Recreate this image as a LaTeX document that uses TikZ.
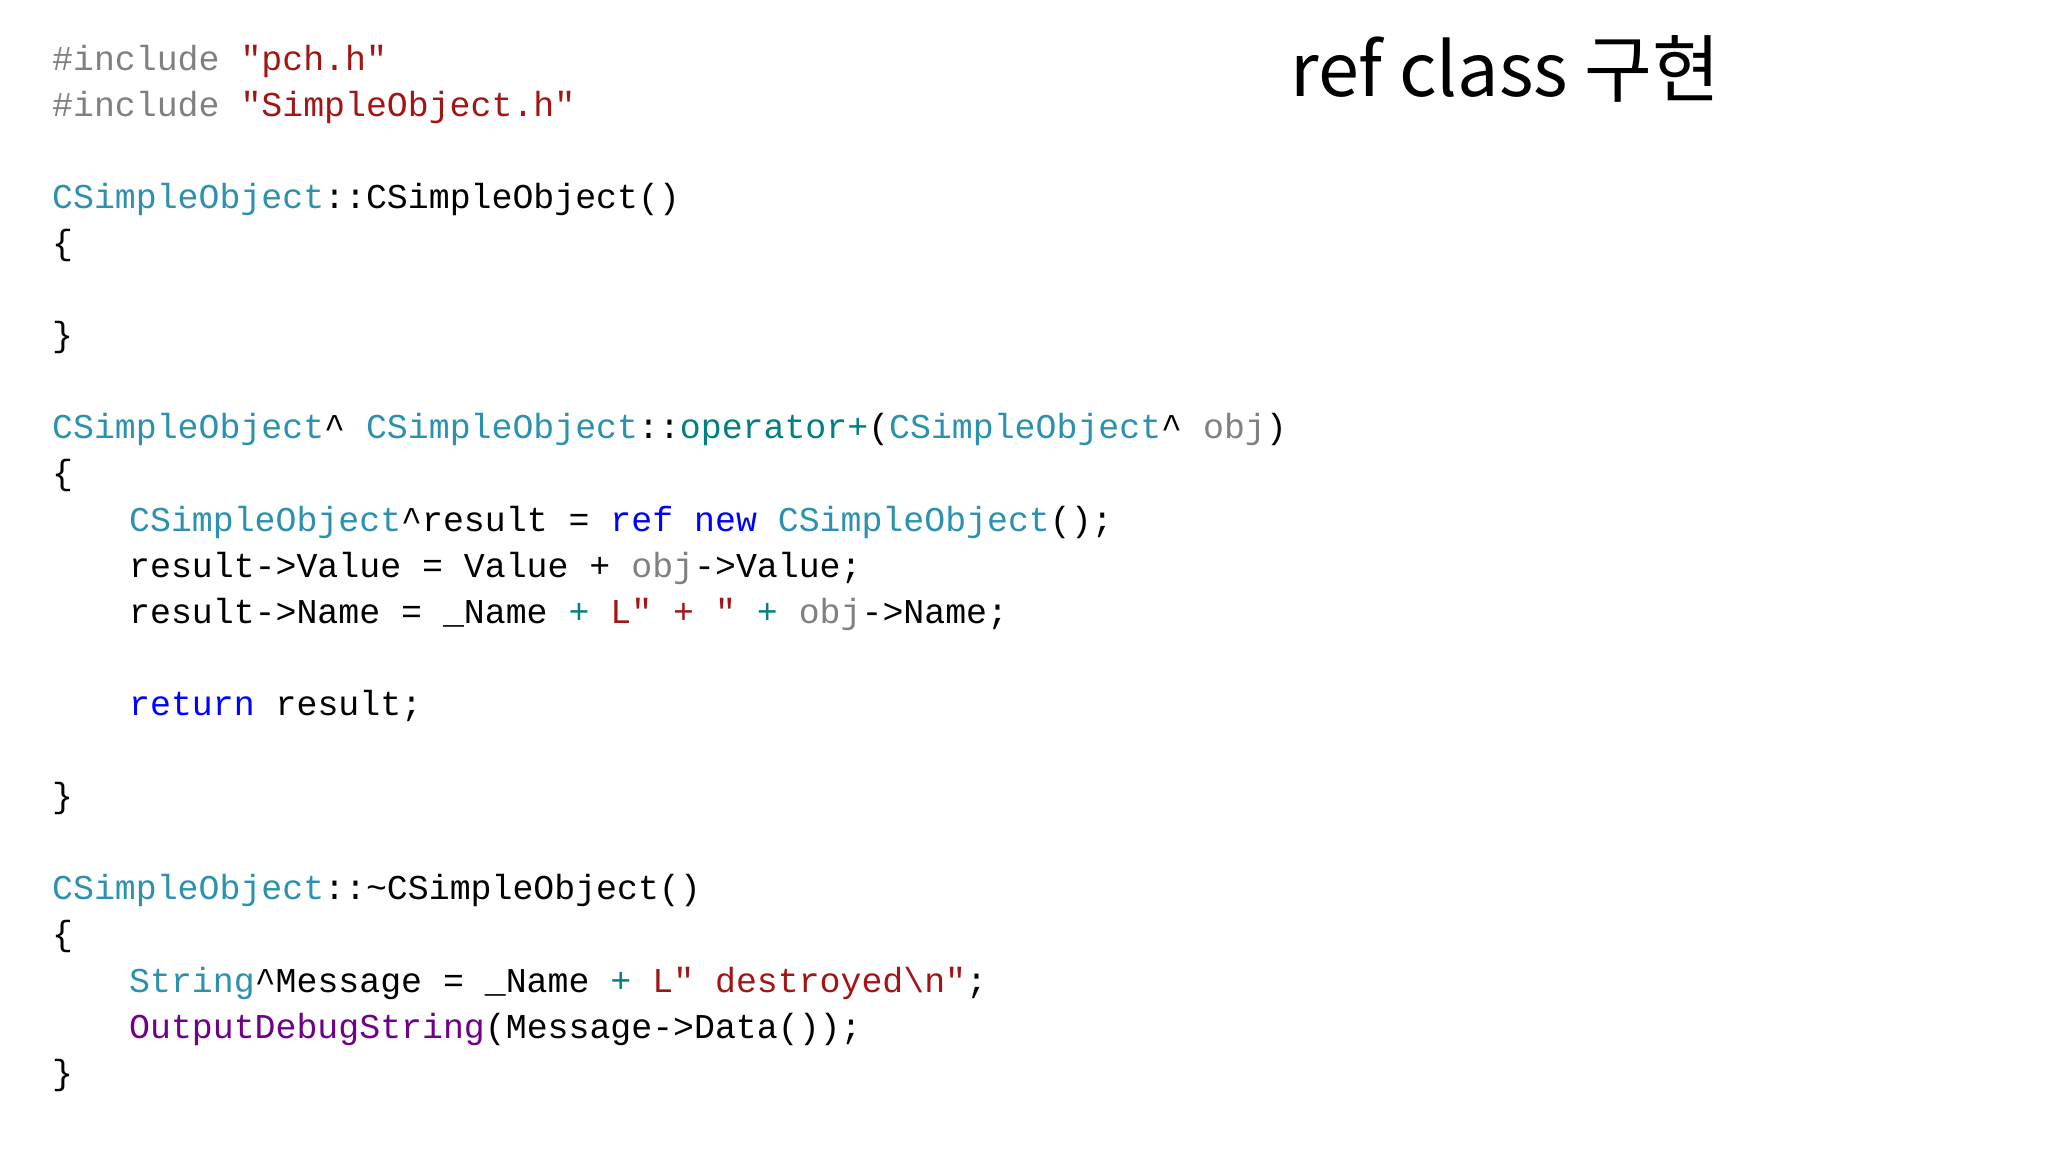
\documentclass[tikz,border=0pt]{standalone}
\usepackage{fontspec}
\setmonofont{Liberation Mono}
\newfontfamily\krfont{Noto Sans CJK KR}
\definecolor{gr}{HTML}{808080}
\definecolor{st}{HTML}{A31515}
\definecolor{ty}{HTML}{2B91AF}
\definecolor{kw}{HTML}{0000FF}
\definecolor{op}{HTML}{008080}
\definecolor{pu}{HTML}{6F008A}
\newcommand{\cc}[2]{\textcolor{#1}{#2}}
\tikzset{codeline/.style={anchor=base west,inner sep=0pt,font=\fontsize{35}{40}\selectfont\ttfamily}}
\begin{document}
\begin{tikzpicture}[x=1bp,y=-1bp]
\useasboundingbox (0,0) rectangle (2048,1152);
\def\L#1#2#3#4{\node[codeline] (#1) at (#2,{70+46.1*#3}) {#4};}
\L{l0}{52}{0}{\cc{gr}{\#include} \cc{st}{"pch.h"}}
\L{l1}{52}{1}{\cc{gr}{\#include} \cc{st}{"SimpleObject.h"}}
\L{l3}{52}{3}{\cc{ty}{CSimpleObject}::CSimpleObject()}
\L{l4}{52}{4}{\{}
\L{l6}{52}{6}{\}}
\L{l8}{52}{8}{\cc{ty}{CSimpleObject}\textasciicircum{} \cc{ty}{CSimpleObject}::\cc{op}{operator+}(\cc{ty}{CSimpleObject}\textasciicircum{} \cc{gr}{obj})}
\L{l9}{52}{9}{\{}
\L{l10}{129}{10}{\cc{ty}{CSimpleObject}\textasciicircum result = \cc{kw}{ref} \cc{kw}{new} \cc{ty}{CSimpleObject}();}
\L{l11}{129}{11}{result->Value = Value + \cc{gr}{obj}->Value;}
\L{l12}{129}{12}{result->Name = \_Name \cc{op}{+} \cc{st}{L" + "} \cc{op}{+} \cc{gr}{obj}->Name;}
\L{l14}{129}{14}{\cc{kw}{return} result;}
\L{l16}{52}{16}{\}}
\L{l18}{52}{18}{\cc{ty}{CSimpleObject}::\textasciitilde CSimpleObject()}
\L{l19}{52}{19}{\{}
\L{l20}{129}{20}{\cc{ty}{String}\textasciicircum Message = \_Name \cc{op}{+} \cc{st}{L" destroyed\textbackslash n"};}
\L{l21}{129}{21}{\cc{pu}{OutputDebugString}(Message->Data());}
\L{l22}{52}{22}{\}}
\node[anchor=base west,inner sep=0pt,font=\krfont\fontsize{74}{80}\selectfont] (title) at (1290,96) {ref class 구현};
\end{tikzpicture}
\end{document}
